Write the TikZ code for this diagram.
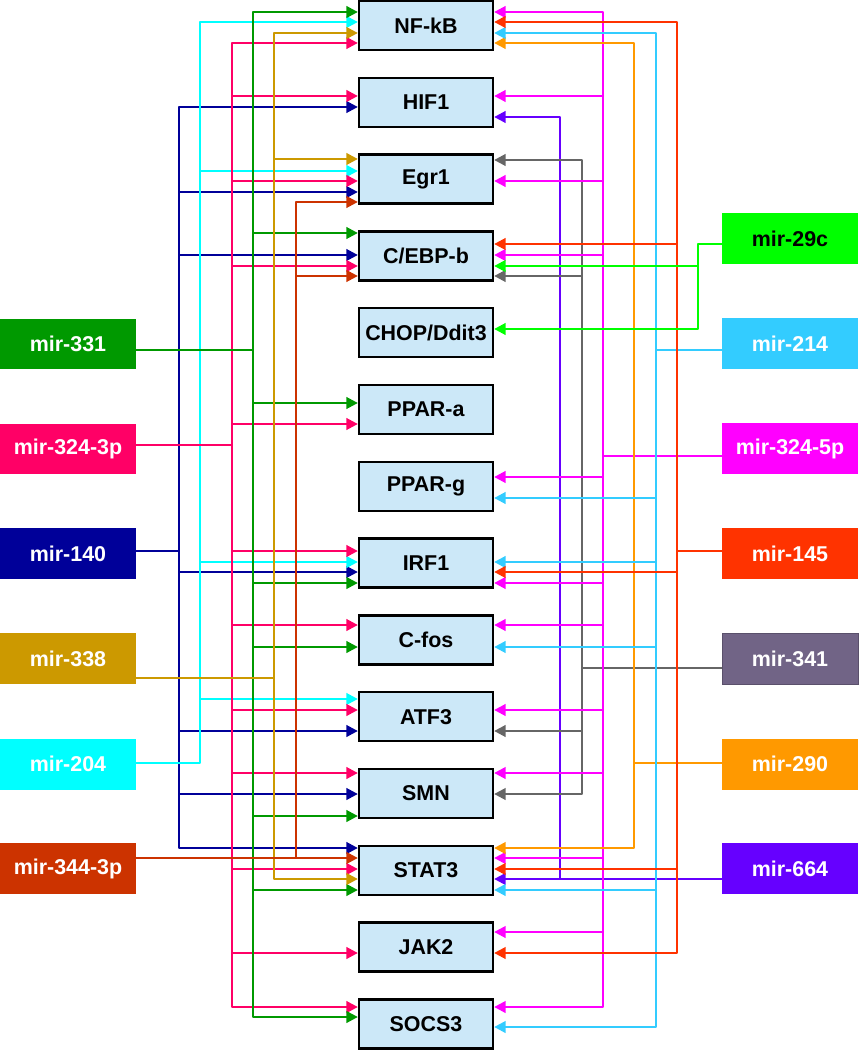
\documentclass[tikz,border=0pt]{standalone}
\usepackage{fontspec}
\setmainfont{Liberation Sans}
\usepackage{tikz}
\usetikzlibrary{arrows.meta}

\definecolor{genefill}{HTML}{CCE8F8}
\definecolor{c331}{HTML}{009900}
\definecolor{c3243p}{HTML}{FF0066}
\definecolor{c140}{HTML}{000099}
\definecolor{c338}{HTML}{CC9900}
\definecolor{c204}{HTML}{00FFFF}
\definecolor{c3443p}{HTML}{CC3300}
\definecolor{c29c}{HTML}{00FF00}
\definecolor{c214}{HTML}{33CCFF}
\definecolor{c3245p}{HTML}{FF00FF}
\definecolor{c145}{HTML}{FF3300}
\definecolor{c341}{HTML}{716486}
\definecolor{l341}{HTML}{666666}
\definecolor{c290}{HTML}{FF9900}
\definecolor{c664}{HTML}{6600FF}

\begin{document}
\begin{tikzpicture}[x=0.02cm, y=-0.02cm, >={Triangle[length=6.5pt,width=6.5pt]},
        gene/.style={draw, line width=1.3pt, fill=genefill, minimum width=2.68cm, minimum height=0.98cm, inner sep=0pt, font=\bfseries\fontsize{12.2}{14}\selectfont},
        mir/.style={fill=#1, minimum width=2.72cm, minimum height=1.02cm, inner sep=0pt, text=white, font=\bfseries\fontsize{12.2}{14}\selectfont},
        wire/.style={draw=#1, line width=1.4pt, line join=round}]
        \useasboundingbox (0,0) rectangle (858,1050);

        \node[gene] (nfkb) at (426,25.5) {NF-kB};
        \node[gene] (hif1) at (426,102.3) {HIF1};
        \node[gene] (egr1) at (426,179.1) {Egr1};
        \node[gene] (cebp) at (426,255.9) {C/EBP-b};
        \node[gene] (chop) at (426,332.7) {CHOP/Ddit3};
        \node[gene] (ppara) at (426,409.5) {PPAR-a};
        \node[gene] (pparg) at (426,486.3) {PPAR-g};
        \node[gene] (irf1) at (426,563.1) {IRF1};
        \node[gene] (cfos) at (426,639.9) {C-fos};
        \node[gene] (atf3) at (426,716.7) {ATF3};
        \node[gene] (smn) at (426,793.5) {SMN};
        \node[gene] (stat3) at (426,870.3) {STAT3};
        \node[gene] (jak2) at (426,947.1) {JAK2};
        \node[gene] (socs3) at (426,1023.9) {SOCS3};

        \node[mir=c331] (m331) at (68,344) {mir-331};
        \node[mir=c3243p] (m3243p) at (68,449) {mir-324-3p};
        \node[mir=c140] (m140) at (68,553.5) {mir-140};
        \node[mir=c338] (m338) at (68,658.5) {mir-338};
        \node[mir=c204] (m204) at (68,764) {mir-204};
        \node[mir=c3443p] (m3443p) at (68,868.5) {mir-344-3p};

        \node[mir=c29c, text=black] (m29c) at (790,238.5) {mir-29c};
        \node[mir=c214] (m214) at (790,343.5) {mir-214};
        \node[mir=c3245p] (m3245p) at (790,448.5) {mir-324-5p};
        \node[mir=c145] (m145) at (790,553.5) {mir-145};
        \node[mir=c341, draw=c341!80!black] (m341) at (790,658.5) {mir-341};
        \node[mir=c290] (m290) at (790,764) {mir-290};
        \node[mir=c664] (m664) at (790,868.5) {mir-664};

        \coordinate (x140) at (179,0);
        \coordinate (x204) at (200,0);
        \coordinate (x3243p) at (232,0);
        \coordinate (x331) at (253,0);
        \coordinate (x338) at (274,0);
        \coordinate (x3443p) at (296,0);
        \coordinate (x664) at (560,0);
        \coordinate (x341) at (582,0);
        \coordinate (x3245p) at (603,0);
        \coordinate (x290) at (634,0);
        \coordinate (x214) at (656,0);
        \coordinate (x145) at (677,0);
        \coordinate (x29c) at (698,0);

        % left side
        \draw[wire=c140, <->] (hif1.west |- 0,107) -| (x140 |- 0,848) -- (stat3.west |- 0,848);
        \draw[wire=c140] (m140.east |- 0,551) -- (x140 |- 0,551);
        \foreach \tg/\yy in {egr1/192, cebp/255, irf1/572, atf3/731, smn/794}
            \draw[wire=c140, ->] (x140 |- 0,\yy) -- (\tg.west |- 0,\yy);

        \draw[wire=c204, <-] (nfkb.west |- 0,22) -| (x204 |- 0,763) -- (m204.east |- 0,763);
        \foreach \tg/\yy in {egr1/171, irf1/562, atf3/699}
            \draw[wire=c204, ->] (x204 |- 0,\yy) -- (\tg.west |- 0,\yy);

        \draw[wire=c3243p, <->] (nfkb.west |- 0,43) -| (x3243p |- 0,1007) -- (socs3.west |- 0,1007);
        \draw[wire=c3243p] (m3243p.east |- 0,445) -- (x3243p |- 0,445);
        \foreach \tg/\yy in {hif1/96, egr1/181, cebp/266, ppara/424, irf1/551, cfos/625, atf3/710, smn/773, stat3/869, jak2/953}
            \draw[wire=c3243p, ->] (x3243p |- 0,\yy) -- (\tg.west |- 0,\yy);

        \draw[wire=c331, <->] (nfkb.west |- 0,12) -| (x331 |- 0,1017) -- (socs3.west |- 0,1017);
        \draw[wire=c331] (m331.east |- 0,350) -- (x331 |- 0,350);
        \foreach \tg/\yy in {cebp/233, ppara/403, irf1/583, cfos/647, smn/816, stat3/890}
            \draw[wire=c331, ->] (x331 |- 0,\yy) -- (\tg.west |- 0,\yy);

        \draw[wire=c338, <->] (nfkb.west |- 0,33) -| (x338 |- 0,879) -- (stat3.west |- 0,879);
        \draw[wire=c338] (m338.east |- 0,678) -- (x338 |- 0,678);
        \draw[wire=c338, ->] (x338 |- 0,159) -- (egr1.west |- 0,159);

        \draw[wire=c3443p, <-] (egr1.west |- 0,202) -| (x3443p |- 0,858);
        \draw[wire=c3443p, ->] (m3443p.east |- 0,858) -- (stat3.west |- 0,858);
        \draw[wire=c3443p, ->] (x3443p |- 0,276) -- (cebp.west |- 0,276);

        % right side
        \draw[wire=c664, <-] (hif1.east |- 0,117) -| (x664 |- 0,879);
        \draw[wire=c664, ->] (m664.west |- 0,879) -- (stat3.east |- 0,879);

        \draw[wire=l341, <->] (egr1.east |- 0,160) -| (x341 |- 0,794) -- (smn.east |- 0,794);
        \draw[wire=l341] (m341.west |- 0,668) -- (x341 |- 0,668);
        \foreach \tg/\yy in {cebp/276, atf3/731}
            \draw[wire=l341, ->] (x341 |- 0,\yy) -- (\tg.east |- 0,\yy);

        \draw[wire=c3245p, <->] (nfkb.east |- 0,12) -| (x3245p |- 0,1007) -- (socs3.east |- 0,1007);
        \draw[wire=c3245p] (m3245p.west |- 0,456) -- (x3245p |- 0,456);
        \foreach \tg/\yy in {hif1/96, egr1/181, cebp/255, pparg/477, irf1/583, cfos/625, atf3/710, smn/773, stat3/858, jak2/932}
            \draw[wire=c3245p, ->] (x3245p |- 0,\yy) -- (\tg.east |- 0,\yy);

        \draw[wire=c290, <->] (nfkb.east |- 0,43) -| (x290 |- 0,848) -- (stat3.east |- 0,848);
        \draw[wire=c290] (m290.west |- 0,763) -- (x290 |- 0,763);

        \draw[wire=c214, <->] (nfkb.east |- 0,33) -| (x214 |- 0,1027) -- (socs3.east |- 0,1027);
        \draw[wire=c214] (m214.west |- 0,350) -- (x214 |- 0,350);
        \foreach \tg/\yy in {pparg/498, irf1/562, cfos/647, stat3/890}
            \draw[wire=c214, ->] (x214 |- 0,\yy) -- (\tg.east |- 0,\yy);

        \draw[wire=c145, <->] (nfkb.east |- 0,22) -| (x145 |- 0,953) -- (jak2.east |- 0,953);
        \draw[wire=c145] (m145.west |- 0,551) -- (x145 |- 0,551);
        \foreach \tg/\yy in {cebp/244, irf1/572, stat3/869}
            \draw[wire=c145, ->] (x145 |- 0,\yy) -- (\tg.east |- 0,\yy);

        \draw[wire=c29c, ->] (m29c.west |- 0,244) -| (x29c |- 0,329) -- (chop.east |- 0,329);
        \draw[wire=c29c, ->] (x29c |- 0,266) -- (cebp.east |- 0,266);

    \end{tikzpicture}
\end{document}
